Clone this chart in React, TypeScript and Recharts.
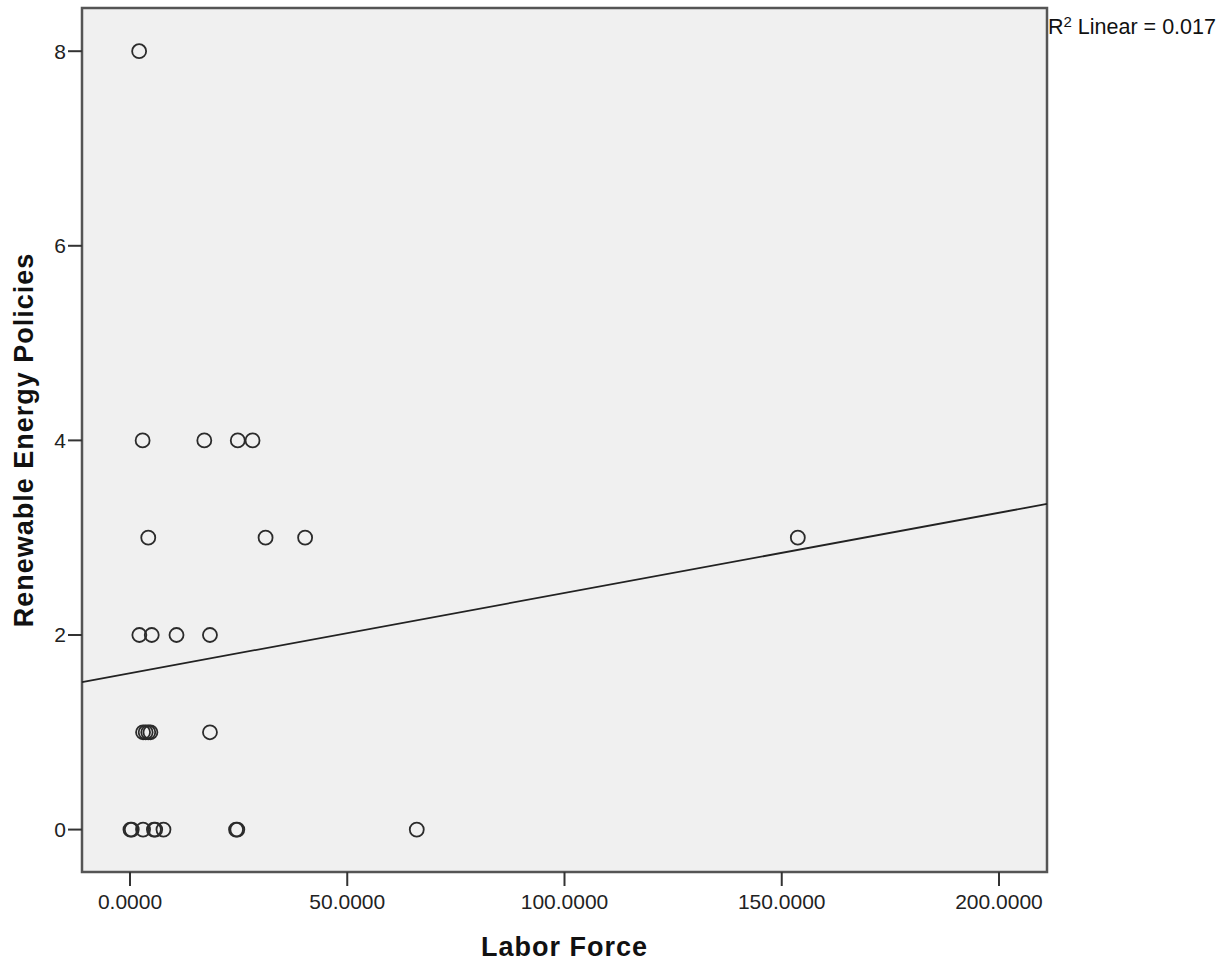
import React from 'react';
import {
  ScatterChart,
  Scatter,
  XAxis,
  YAxis,
  ReferenceArea,
  ReferenceLine,
} from 'recharts';

// Observations: labour force (x) against number of renewable energy policies (y)
const laborForce = [
  2.1,
  2.9, 17.1, 24.8, 28.2,
  4.2, 31.2, 40.3, 153.7,
  2.15, 5.0, 10.7, 18.4,
  3.0, 3.6, 4.2, 4.7, 18.4,
  0.1, 0.4, 3.0, 5.5, 5.8, 7.7, 24.4, 24.7, 66.0,
];
const renewablePolicies = [
  8,
  4, 4, 4, 4,
  3, 3, 3, 3,
  2, 2, 2, 2,
  1, 1, 1, 1, 1,
  0, 0, 0, 0, 0, 0, 0, 0, 0,
];

// Axis settings
const xTicks = [0, 50, 100, 150, 200];
const yTicks = [0, 2, 4, 6, 8];
const xDomain: [number, number] = [-11.05, 211.05];
const yDomain: [number, number] = [-0.436, 8.444];

// Linear fit across the full x range
const fitLine = [
  { x: -11.05, y: 1.516 },
  { x: 211.05, y: 3.347 },
];
const fitLabel = { r2: '0.017' };

const points = laborForce.map((x, i) => ({ x, y: renewablePolicies[i] }));

const FONT = "'Liberation Sans', Arial, Helvetica, sans-serif";

const OpenCircle = (props: any) => (
  <circle cx={props.cx} cy={props.cy} r={7} fill="none" stroke="#2b2b2b" strokeWidth={1.8} />
);

const XTitle = (props: any) => {
  const vb = props.viewBox;
  return (
    <text
      x={vb.x + vb.width / 2}
      y={956}
      textAnchor="middle"
      fontFamily={FONT}
      fontWeight="bold"
      fontSize={27}
      letterSpacing={1}
      fill="#111"
    >
      Labor Force
    </text>
  );
};

const YTitle = (props: any) => {
  const vb = props.viewBox;
  const cy = vb.y + vb.height / 2;
  return (
    <text
      x={24}
      y={cy}
      transform={`rotate(-90, 24, ${cy})`}
      textAnchor="middle"
      dominantBaseline="central"
      fontFamily={FONT}
      fontWeight="bold"
      fontSize={27}
      letterSpacing={1}
      fill="#111"
    >
      Renewable Energy Policies
    </text>
  );
};

export default function App() {
  return (
    <div style={{ position: 'absolute', left: 0, top: 0, width: 1230, height: 966, background: '#fff' }}>
      <ScatterChart
        width={1230}
        height={966}
        margin={{ top: 8, right: 183, bottom: 0, left: 0 }}
      >
        <XAxis
          type="number"
          dataKey="x"
          domain={xDomain}
          ticks={xTicks}
          allowDataOverflow
          height={94}
          tickFormatter={(v: number) => v.toFixed(4)}
          tickSize={14}
          tickMargin={8}
          axisLine={false}
          tickLine={{ stroke: '#333', strokeWidth: 2 }}
          tick={{ fontFamily: FONT, fontSize: 21, fill: '#222' }}
          label={<XTitle />}
        />
        <YAxis
          type="number"
          dataKey="y"
          domain={yDomain}
          ticks={yTicks}
          allowDataOverflow
          width={82}
          tickSize={14}
          tickMargin={2}
          axisLine={false}
          tickLine={{ stroke: '#333', strokeWidth: 2 }}
          tick={{ fontFamily: FONT, fontSize: 21, fill: '#222' }}
          label={<YTitle />}
        />
        <ReferenceArea
          x1={xDomain[0]}
          x2={xDomain[1]}
          y1={yDomain[0]}
          y2={yDomain[1]}
          fill="#f0f0f0"
          fillOpacity={1}
          stroke="#555"
          strokeWidth={2.5}
          ifOverflow="visible"
        />
        <ReferenceLine
          segment={fitLine}
          stroke="#222"
          strokeWidth={1.8}
          ifOverflow="visible"
        />
        <Scatter data={points} shape={<OpenCircle />} isAnimationActive={false} />
      </ScatterChart>
      <div
        style={{
          position: 'absolute',
          left: 1048,
          top: 14,
          fontFamily: FONT,
          fontSize: 21.5,
          color: '#111',
          whiteSpace: 'nowrap',
          lineHeight: '26px',
        }}
      >
        R<sup style={{ fontSize: 15, verticalAlign: 'top', position: 'relative', top: -5 }}>2</sup> Linear = {fitLabel.r2}
      </div>
    </div>
  );
}
